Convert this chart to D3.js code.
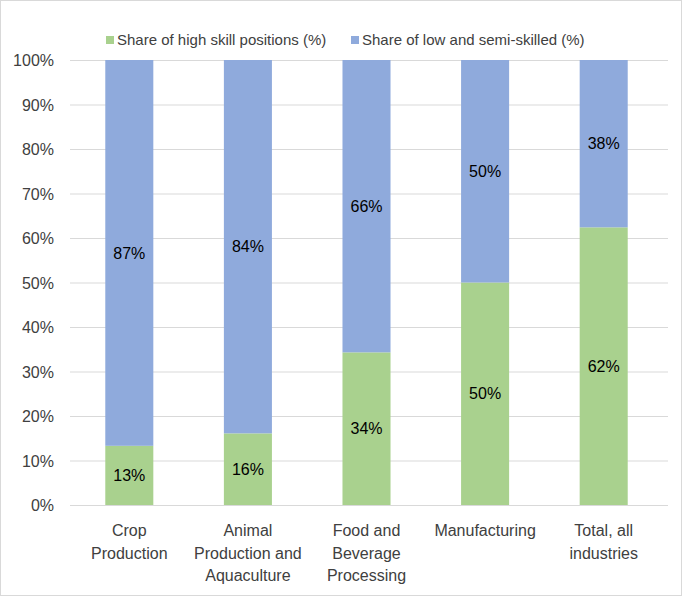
<!DOCTYPE html>
<html><head><meta charset="utf-8">
<script src="https://cdn.jsdelivr.net/npm/d3@7"></script>
<style>body{margin:0;background:#fff}svg{display:block}</style>
</head><body>
<svg id="chart" width="682" height="596"></svg>
<script>
const categories = [["Crop","Production"],["Animal","Production and","Aquaculture"],["Food and","Beverage","Processing"],["Manufacturing"],["Total, all","industries"]];
const highSkill = [13.3, 16.1, 34.3, 50.0, 62.4];
const lowSkill = [86.7, 83.9, 65.7, 50.0, 37.6];
const highLabels = ["13%","16%","34%","50%","62%"];
const lowLabels = ["87%","84%","66%","50%","38%"];
const seriesNames = ["Share of high skill positions (%)","Share of low and semi-skilled (%)"];
const colors = ["#A9D18E","#8FAADC"];
const yTicks = [0,10,20,30,40,50,60,70,80,90,100];

(function(){
const font = "'Liberation Sans Narrow','Liberation Sans',Arial,sans-serif";
const svg = d3.select("#chart");
svg.append("rect").attr("x",0.5).attr("y",0.5).attr("width",681).attr("height",595)
  .attr("fill","#fff").attr("stroke","#d9d9d9");

const mL = 70, mR = 663, mT = 60, mB = 505;
const x = d3.scaleBand().domain(d3.range(categories.length)).range([mL,mR])
  .paddingInner(0.595).paddingOuter(0.2975);
const y = d3.scaleLinear().domain([0,100]).range([mB,mT]);

svg.append("g").selectAll("line").data(yTicks).join("line")
  .attr("x1",mL).attr("x2",mR+5)
  .attr("y1",d=>y(d)+0.5).attr("y2",d=>y(d)+0.5)
  .attr("stroke","#d9d9d9").attr("stroke-width",1);

const yAxis = d3.axisLeft(y).tickValues(yTicks).tickFormat(d=>d+"%").tickSize(0).tickPadding(0);
const ya = svg.append("g").attr("transform",`translate(${mL-16},0)`).call(yAxis);
ya.select(".domain").remove();
ya.selectAll("text").attr("font-family",font).attr("font-size",16).attr("fill","#404040").attr("dy","0.35em");

const stack = categories.map((c,i)=>({i, h:highSkill[i], l:lowSkill[i]}));
const g = svg.append("g");
g.selectAll(".hi").data(stack).join("rect")
  .attr("x",d=>x(d.i)).attr("width",x.bandwidth())
  .attr("y",d=>y(d.h)).attr("height",d=>y(0)-y(d.h)).attr("fill",colors[0]);
g.selectAll(".lo").data(stack).join("rect")
  .attr("x",d=>x(d.i)).attr("width",x.bandwidth())
  .attr("y",d=>y(d.h+d.l)).attr("height",d=>y(d.h)-y(d.h+d.l)).attr("fill",colors[1]);

g.selectAll(".hl").data(stack).join("text")
  .attr("x",d=>x(d.i)+x.bandwidth()/2).attr("y",d=>y(d.h/2))
  .attr("dy","0.35em").attr("text-anchor","middle")
  .attr("font-family",font).attr("font-size",16).attr("fill","#000")
  .text(d=>highLabels[d.i]);
g.selectAll(".ll").data(stack).join("text")
  .attr("x",d=>x(d.i)+x.bandwidth()/2).attr("y",d=>y(d.h+d.l/2))
  .attr("dy","0.35em").attr("text-anchor","middle")
  .attr("font-family",font).attr("font-size",16).attr("fill","#000")
  .text(d=>lowLabels[d.i]);

const cg = svg.append("g");
categories.forEach((lines,i)=>{
  const t = cg.append("text").attr("text-anchor","middle")
    .attr("font-family",font).attr("font-size",16).attr("fill","#404040");
  lines.forEach((ln,k)=>{
    t.append("tspan").attr("x",x(i)+x.bandwidth()/2).attr("y",536+k*22.5).text(ln);
  });
});

const lg = svg.append("g");
const legendX = [106, 351];
seriesNames.forEach((n,i)=>{
  lg.append("rect").attr("x",legendX[i]).attr("y",36).attr("width",8).attr("height",8).attr("fill",colors[i]);
  lg.append("text").attr("x",legendX[i]+11).attr("y",40).attr("dy","0.35em")
    .attr("font-family",font).attr("font-size",15).attr("fill","#404040").text(n);
});
})();
</script>
</body></html>
